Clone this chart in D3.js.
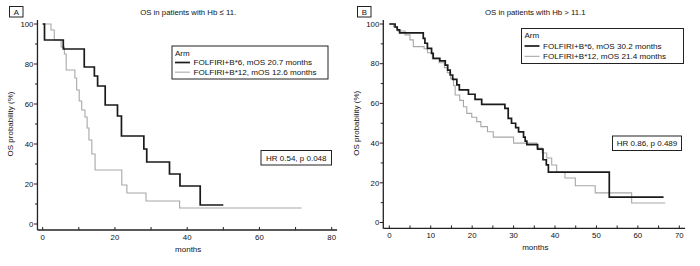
<!DOCTYPE html>
<html>
<head>
<meta charset="utf-8">
<script src="https://cdn.jsdelivr.net/npm/d3@7"></script>
<style>
  body { margin: 0; background: #fff; }
  svg text { font-family: "Liberation Sans", Arial, sans-serif; fill: #111; }
</style>
</head>
<body>
<div id="chart"></div>
<script>
// Kaplan-Meier steps: [month, OS %]
const armA6 = [[0,100],[0.5,92],[5.7,87.5],[11.5,78.5],[14.3,74],[15.2,69],[17.3,59.5],[20.7,54],[21.8,44],[28,37.5],[28.8,31],[35.1,25],[38,19],[43.6,9.5],[50,9.5]];
const armA12 = [[0,100],[2.3,97],[3.2,92],[5.1,88.5],[6,85],[6.5,77],[8.9,73],[9.4,67],[10.1,61.5],[10.8,57],[11.7,53.5],[12.3,48],[12.8,42],[13.6,35],[14.5,27],[21.9,19.5],[23.3,15.5],[28.6,11.5],[37.9,8],[71.7,8]];
const armB6 = [[0,100],[1.4,98.5],[1.9,97],[2.5,95.5],[8.2,92.8],[8.6,90.3],[9.2,87.7],[10.2,85.2],[10.6,82.7],[12.2,81.4],[13.5,79.3],[14.1,76.8],[14.7,74.3],[15.3,72.1],[16.3,69.3],[16.9,66.8],[19.1,64.6],[20.7,62],[22.3,59.5],[27.9,57.5],[28.7,52.5],[29.5,50],[30.5,47.8],[31.2,45.7],[32.4,43],[32.8,41],[33.2,39.2],[35.8,37],[37.1,31.6],[37.9,29],[38.4,25.4],[53.1,12.8],[66.2,12.8]];
const armB12 = [[0,100],[1,98.5],[2,96.5],[3.8,94.5],[5,92],[5.8,88.6],[8.4,87.5],[9.2,85.5],[10.4,82.5],[12,80.5],[13.3,78],[14,75.5],[14.8,72.5],[15.5,69],[15.9,64.2],[17,61.5],[17.9,58.3],[18.7,55],[19.9,53],[21.1,50.8],[22.1,48.3],[23.7,45.7],[25.1,43],[30,40],[35.6,37.5],[36.9,35],[38,32.5],[39.2,29],[40.4,25.3],[42.4,22.4],[44.9,18.5],[49.7,14.9],[58.5,9.8],[66.6,9.8]];

const yTicks = [0, 20, 40, 60, 80, 100];
const xTicksA = [0, 20, 40, 60, 80];
const xTicksB = [0, 10, 20, 30, 40, 50, 60, 70];

const panels = [
  { tag: "A", title: "OS in patients with Hb \u2264 11.", xMax: 80, xTicks: xTicksA, xMinorStep: 10,
    xRange: [42.7, 331.7], yRange: [224, 24], xAxisEnd: 81.5,
    series: [armA6, armA12],
    legend: ["FOLFIRI+B*6, mOS 20.7 months", "FOLFIRI+B*12, mOS 12.6 months"],
    legendBox: [172, 46, 156, 33], hr: "HR 0.54, p 0.048", hrBox: [261, 150.5, 70.5, 14.5],
    tagX: 9.5 },
  { tag: "B", title: "OS in patients with Hb > 11.1", xMax: 70, xTicks: xTicksB, xMinorStep: 5,
    xRange: [389.3, 679.3], yRange: [222.5, 24], xAxisEnd: 71.4,
    series: [armB6, armB12],
    legend: ["FOLFIRI+B*6, mOS 30.2 months", "FOLFIRI+B*12, mOS 21.4 months"],
    legendBox: [521.5, 28.5, 162, 35], hr: "HR 0.86, p 0.489", hrBox: [612.5, 136, 69, 14.5],
    tagX: 357.5 }
];

const width = 700, height = 266;
const svg = d3.select("#chart").append("svg")
  .attr("width", width).attr("height", height);

const styles = [
  { stroke: "#1a1a1a", width: 1.7 },
  { stroke: "#a8a8a8", width: 1.1 }
];

panels.forEach((p) => {
  const x = d3.scaleLinear().domain([0, p.xMax]).range(p.xRange);
  const y = d3.scaleLinear().domain([0, 100]).range(p.yRange);
  const g = svg.append("g");
  const axisX = x(-1.45), axisY = y(-3);

  // axes lines
  g.append("line").attr("x1", axisX).attr("x2", axisX)
    .attr("y1", axisY).attr("y2", y(102))
    .attr("stroke", "#222").attr("stroke-width", 1.3);
  g.append("line").attr("x1", axisX).attr("x2", x(p.xAxisEnd))
    .attr("y1", axisY).attr("y2", axisY)
    .attr("stroke", "#222").attr("stroke-width", 1.3);

  // y ticks (outward), minors at the 10s
  d3.range(0, 101, 10).forEach((v) => {
    g.append("line").attr("x1", axisX - (v % 20 === 0 ? 3.5 : 2.5)).attr("x2", axisX)
      .attr("y1", y(v)).attr("y2", y(v)).attr("stroke", "#222").attr("stroke-width", 1);
  });
  g.selectAll(".ytl").data(yTicks).enter().append("text")
    .attr("x", axisX - 4).attr("y", (d) => y(d)).attr("dy", "0.35em")
    .attr("text-anchor", "end").attr("font-size", 7.8).text((d) => d);

  // x ticks (inward)
  d3.range(0, p.xMax + 0.1, p.xMinorStep).forEach((v) => {
    g.append("line").attr("x1", x(v)).attr("x2", x(v))
      .attr("y1", axisY).attr("y2", axisY - 3).attr("stroke", "#222").attr("stroke-width", 1);
  });
  g.selectAll(".xtl").data(p.xTicks).enter().append("text")
    .attr("x", (d) => x(d)).attr("y", axisY + 9.5)
    .attr("text-anchor", "middle").attr("font-size", 7.8).text((d) => d);

  g.append("text").attr("x", (p.xRange[0] + p.xRange[1]) / 2 + 1).attr("y", axisY + 21.5)
    .attr("text-anchor", "middle").attr("font-size", 8).text("months");
  g.append("text")
    .attr("transform", `translate(${axisX - 27},${y(50)}) rotate(-90)`)
    .attr("text-anchor", "middle").attr("dy", "0.35em").attr("font-size", 8)
    .text("OS probability (%)");

  // title and panel tag
  g.append("text").attr("x", (p.xRange[0] + p.xRange[1]) / 2 + 1).attr("y", 14.5)
    .attr("text-anchor", "middle").attr("font-size", 7.8).text(p.title);
  g.append("rect").attr("x", p.tagX).attr("y", 6.5).attr("width", 13.5).attr("height", 10.5)
    .attr("fill", "#fff").attr("stroke", "#222").attr("stroke-width", 1);
  g.append("text").attr("x", p.tagX + 6.75).attr("y", 14.8)
    .attr("text-anchor", "middle").attr("font-size", 7.8).text(p.tag);

  // curves
  const line = d3.line().x((d) => x(d[0])).y((d) => y(d[1])).curve(d3.curveStepAfter);
  [1, 0].forEach((i) => {
    g.append("path").datum(p.series[i]).attr("d", line)
      .attr("fill", "none").attr("stroke", styles[i].stroke)
      .attr("stroke-width", styles[i].width);
  });

  // legend
  const [lx, ly, lw, lh] = p.legendBox;
  g.append("rect").attr("x", lx).attr("y", ly).attr("width", lw).attr("height", lh)
    .attr("fill", "#fff").attr("stroke", "#222").attr("stroke-width", 1);
  const rowH = (lh - 4) / 3;
  g.append("text").attr("x", lx + 3).attr("y", ly + 2 + rowH * 0.5).attr("dy", "0.35em")
    .attr("font-size", 8).text("Arm");
  p.legend.forEach((t, i) => {
    const cy = ly + 2 + rowH * (i + 1.5);
    g.append("line").attr("x1", lx + 3).attr("x2", lx + 18).attr("y1", cy).attr("y2", cy)
      .attr("stroke", styles[i].stroke).attr("stroke-width", styles[i].width);
    g.append("text").attr("x", lx + 21.5).attr("y", cy).attr("dy", "0.35em")
      .attr("font-size", 8.1).text(t);
  });

  // HR box
  const [hx, hy, hw, hh] = p.hrBox;
  g.append("rect").attr("x", hx).attr("y", hy).attr("width", hw).attr("height", hh)
    .attr("fill", "#fff").attr("stroke", "#222").attr("stroke-width", 1);
  g.append("text").attr("x", hx + hw / 2).attr("y", hy + hh / 2).attr("dy", "0.35em")
    .attr("text-anchor", "middle").attr("font-size", 8).text(p.hr);
});
</script>
</body>
</html>
